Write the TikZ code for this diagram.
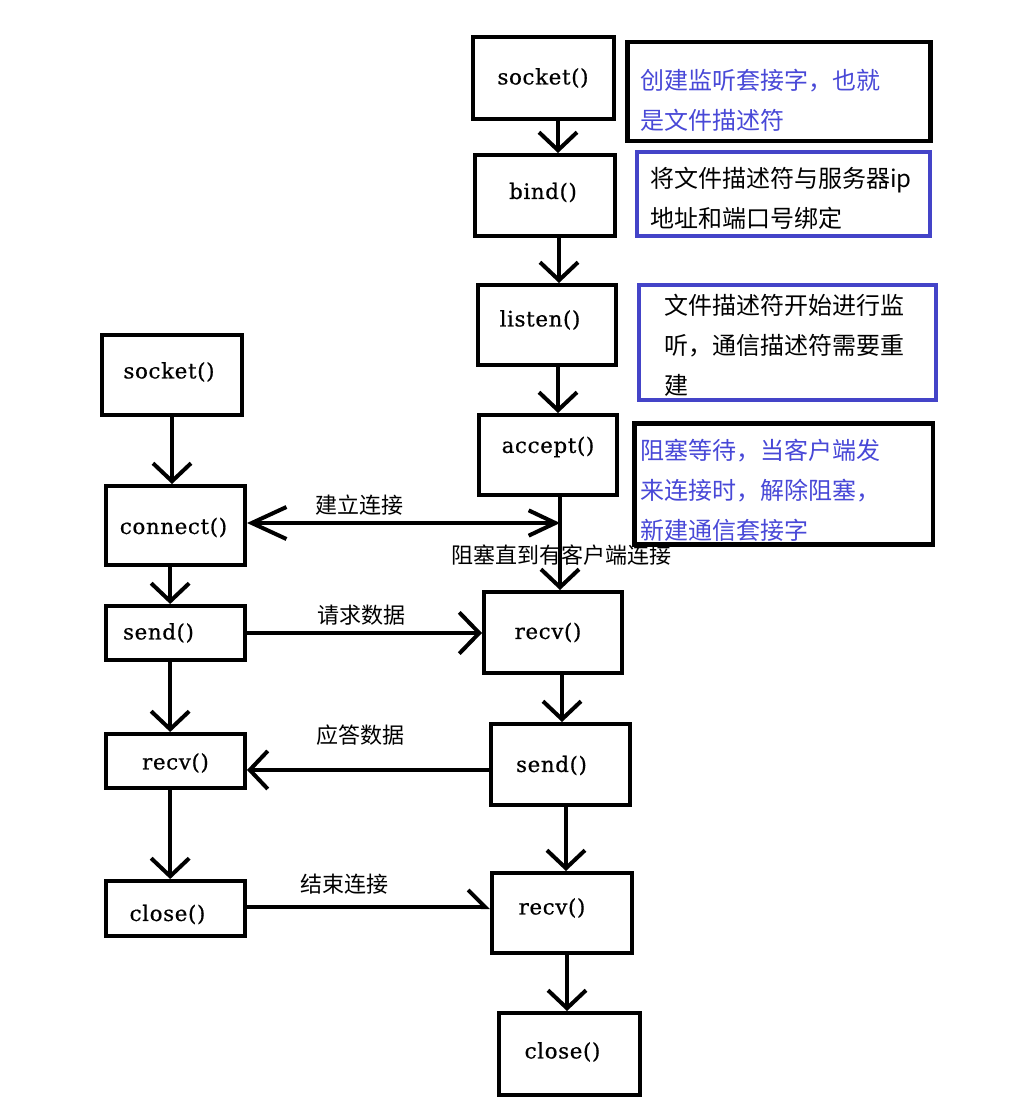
\documentclass[tikz,border=0pt]{standalone}
\usepackage{fontspec}
\setmainfont{DejaVu Serif}
\newfontfamily\cjk{Noto Sans CJK SC}
\newfontfamily\lblfont[LetterSpace=3,FakeBold=0.6]{DejaVu Serif}
\usetikzlibrary{arrows.meta}
\definecolor{noteblue}{RGB}{68,68,200}
\definecolor{textblue}{RGB}{72,72,215}
\begin{document}
\begin{tikzpicture}[x=0.75pt,y=-0.75pt,
  box/.style={draw, line width=3pt, inner sep=0pt},
  lbl/.style={inner sep=0pt, font=\lblfont\fontsize{16pt}{19pt}\selectfont},
  cjklbl/.style={inner sep=0pt, font=\cjk\fontsize{16.5pt}{20pt}\selectfont},
  notebox/.style={draw=#1, inner sep=0pt},
  notetext/.style={inner sep=0pt, anchor=west, align=left, font=\cjk\fontsize{18pt}{30pt}\selectfont},
  arr/.style={line width=3pt, -{Straight Barb[length=13.5pt,width=28.5pt]}},
]
\useasboundingbox (0,0) rectangle (1024,1106);
\fill[white] (0,0) rectangle (1024,1106);

% client column
\node[box, minimum width=105pt, minimum height=60pt,
  label={[lbl,shift={(-3,-3)}]center:socket()}] (cs) at (172,375) {};
\node[box, minimum width=104.25pt, minimum height=59.25pt,
  label={[lbl,shift={(-2,2)}]center:connect()}] (cc) at (175.5,525.5) {};
\node[box, minimum width=104.25pt, minimum height=40.5pt,
  label={[lbl,shift={(-17,0)}]center:send()}] (csd) at (175.5,633) {};
\node[box, minimum width=104.25pt, minimum height=40.5pt,
  label={[lbl,shift={(0,2)}]center:recv()}] (cr) at (175.5,761) {};
\node[box, minimum width=104.25pt, minimum height=41.25pt,
  label={[lbl,shift={(-8,6)}]center:close()}] (ccl) at (175.5,908.5) {};

% server column
\node[box, minimum width=105.75pt, minimum height=61.5pt,
  label={[lbl]center:socket()}] (ss) at (543,78) {};
\node[box, minimum width=105pt, minimum height=60.75pt,
  label={[lbl,shift={(-2,-3)}]center:bind()}] (sb) at (545,195.5) {};
\node[box, minimum width=103.5pt, minimum height=60pt,
  label={[lbl,shift={(-7,-5)}]center:listen()}] (sl) at (547,325) {};
\node[box, minimum width=103.5pt, minimum height=60pt,
  label={[lbl,shift={(0,-8)}]center:accept()}] (sa) at (548,455) {};
\node[box, minimum width=103.5pt, minimum height=60.75pt,
  label={[lbl,shift={(-5,0)}]center:recv()}] (sr) at (553,632.5) {};
\node[box, minimum width=104.25pt, minimum height=60.75pt,
  label={[lbl,shift={(-9,1)}]center:send()}] (ssd) at (560.5,764.5) {};
\node[box, minimum width=105pt, minimum height=60pt,
  label={[lbl,shift={(-10,-5)}]center:recv()}] (sr2) at (562,913) {};
\node[box, minimum width=105.75pt, minimum height=61.5pt,
  label={[lbl,shift={(-7,-2)}]center:close()}] (scl) at (569.5,1054) {};

% notes
\node[notebox=black, line width=3.4pt, minimum width=227.6pt, minimum height=73.9pt] (n1) at (779,91.5) {};
\node[notetext, text=textblue] (n1t) at (640,100) {创建监听套接字，也就\\是文件描述符};
\node[notebox=noteblue, line width=3pt, minimum width=219.75pt, minimum height=63pt] (n2) at (783.5,194) {};
\node[notetext] (n2t) at (650,198) {将文件描述符与服务器ip\\地址和端口号绑定};
\node[notebox=noteblue, line width=3pt, minimum width=222.75pt, minimum height=86.25pt] (n3) at (787.5,342.5) {};
\node[notetext] (n3t) at (664,345) {文件描述符开始进行监\\听，通信描述符需要重\\建};
\node[notebox=black, line width=3.4pt, minimum width=223.9pt, minimum height=91.1pt] (n4) at (783.5,484) {};
\node[notetext, text=textblue] (n4t) at (640,490) {阻塞等待，当客户端发\\来连接时，解除阻塞，\\新建通信套接字};

% client vertical arrows
\draw[arr] (cs.south) -- (cs.south |- cc.north);
\draw[arr] ([xshift=-4pt]cc.south) -- ([xshift=-4pt]cc.south |- csd.north);
\draw[arr] ([xshift=-4pt]csd.south) -- ([xshift=-4pt]csd.south |- cr.north);
\draw[arr] ([xshift=-4pt]cr.south) -- ([xshift=-4pt]cr.south |- ccl.north);

% server vertical arrows
\draw[arr] ([xshift=11.25pt]ss.south) -- ([xshift=11.25pt]ss.south |- sb.north);
\draw[arr] ([xshift=10.5pt]sb.south) -- ([xshift=10.5pt]sb.south |- sl.north);
\draw[arr] ([xshift=8.25pt]sl.south) -- ([xshift=8.25pt]sl.south |- sa.north);
\draw[arr] ([xshift=9pt]sa.south) -- ([xshift=9pt]sa.south |- sr.north);
\draw[arr] ([xshift=6.75pt]sr.south) -- ([xshift=6.75pt]sr.south |- ssd.north);
\draw[arr] ([xshift=4.1pt]ssd.south) -- ([xshift=4.1pt]ssd.south |- sr2.north);
\draw[arr] ([xshift=3.75pt]sr2.south) -- ([xshift=3.75pt]sr2.south |- scl.north);

% horizontal connectors
\coordinate (j) at (560,523);
\draw[line width=3pt, {Straight Barb[length=26pt,width=24pt]}-{Straight Barb[length=20pt,width=19pt]}] (cc.east |- j) -- (j);
\draw[arr, -{Straight Barb[length=15pt,width=31pt]}] (csd.east) -- (csd.east -| sr.west);
\draw[arr] ([yshift=-4.1pt]ssd.west) -- ([yshift=-4.1pt]ssd.west -| cr.east);
\draw[line width=3pt, -{Straight Barb[left,length=12.75pt,width=25.5pt]}] ([yshift=1.1pt]ccl.east) -- ([yshift=1.1pt]ccl.east -| sr2.west);

% connector labels
\node[cjklbl] (t1) at (359,505) {建立连接};
\node[cjklbl] (t2) at (361,615) {请求数据};
\node[cjklbl] (t3) at (360,735) {应答数据};
\node[cjklbl] (t4) at (344,884) {结束连接};
\node[cjklbl] (t5) at (561,555) {阻塞直到有客户端连接};
\end{tikzpicture}
\end{document}
